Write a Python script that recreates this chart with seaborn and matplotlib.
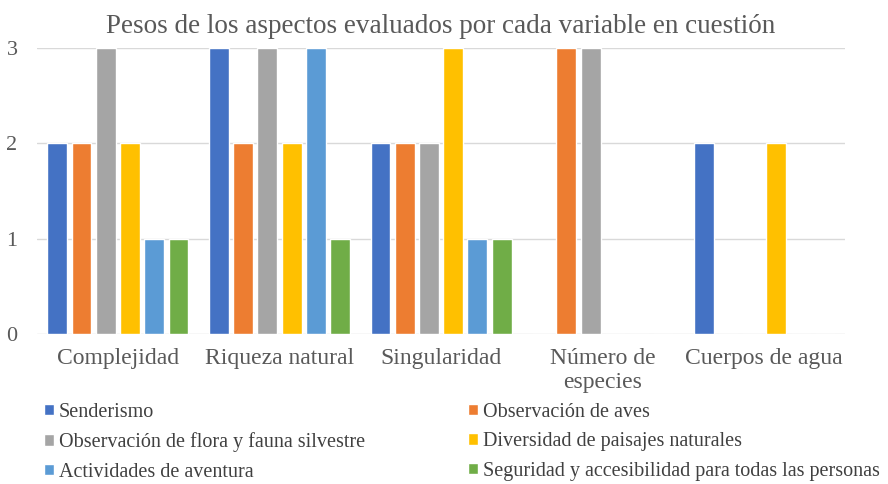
import pandas as pd
import matplotlib
matplotlib.use("Agg")
import matplotlib.pyplot as plt
import seaborn as sns

categorias = ["Complejidad", "Riqueza natural", "Singularidad", "Número de\nespecies", "Cuerpos de agua"]
aspectos = [
    "Senderismo",
    "Observación de aves",
    "Observación de flora y fauna silvestre",
    "Diversidad de paisajes naturales",
    "Actividades de aventura",
    "Seguridad y accesibilidad para todas las personas",
]
senderismo = [2, 3, 2, 0, 2]
aves = [2, 2, 2, 3, 0]
flora_fauna = [3, 3, 2, 3, 0]
paisajes = [2, 2, 3, 0, 2]
aventura = [1, 3, 1, 0, 0]
seguridad = [1, 1, 1, 0, 0]
colores = ["#4472C4", "#ED7D31", "#A5A5A5", "#FFC000", "#5B9BD5", "#70AD47"]

series = [senderismo, aves, flora_fauna, paisajes, aventura, seguridad]
rows = []
for asp, vals in zip(aspectos, series):
    for cat, v in zip(categorias, vals):
        rows.append({"categoria": cat, "aspecto": asp, "peso": v})
df = pd.DataFrame(rows)

sns.set_theme(style="white")
plt.rcParams["font.family"] = ["Liberation Serif", "DejaVu Serif"]
text_color = "#595959"

fig = plt.figure(figsize=(8.88, 4.84), dpi=100)
ax = fig.add_axes([0.0417, 0.31, 0.91, 0.591])

sns.barplot(data=df, x="categoria", y="peso", hue="aspecto", order=categorias,
            hue_order=aspectos, palette=colores, width=0.9, gap=0.18,
            saturation=1, ax=ax, legend=True)

ax.set_ylim(0, 3)
ax.set_xlim(-0.5, len(categorias) - 0.5)
ax.set_yticks([0, 1, 2, 3])
ax.yaxis.grid(True, color="#D9D9D9", linewidth=1)
ax.set_axisbelow(True)
for s in ax.spines.values():
    s.set_visible(False)
ax.tick_params(axis="both", length=0, labelcolor=text_color)
ax.tick_params(axis="y", labelsize=16, pad=14)
ax.tick_params(axis="x", labelsize=17, pad=10)
ax.set_xlabel("")
ax.set_ylabel("")
ax.set_title("Pesos de los aspectos evaluados por cada variable en cuestión",
             fontsize=19.5, color=text_color, pad=11)

# leyenda en dos columnas, ordenada por filas
handles, labels = ax.get_legend_handles_labels()
orden = [0, 2, 4, 1, 3, 5]
ax.legend([handles[i] for i in orden], [labels[i] for i in orden], ncol=2,
          loc="upper left", bbox_to_anchor=(-0.004, -0.205), frameon=False,
          fontsize=14.5, labelcolor="#404040", handlelength=0.5, handleheight=0.5,
          handletextpad=0.25, labelspacing=0.52, columnspacing=5.1, borderpad=0)

fig.savefig("out.png", dpi=100)
